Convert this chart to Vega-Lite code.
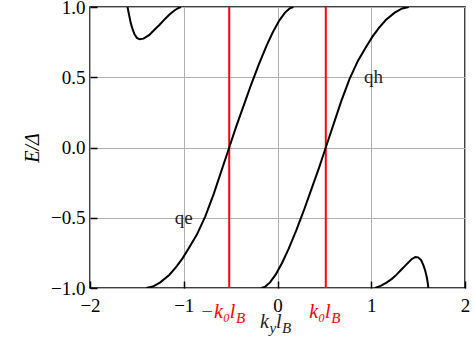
{
  "$schema": "https://vega.github.io/schema/vega-lite/v6.json",
  "width": 375,
  "height": 281,
  "autosize": {"type": "none"},
  "padding": {"left": 90, "top": 7, "right": 9, "bottom": 57},
  "background": "white",
  "config": {
    "view": {"stroke": "black", "strokeWidth": 1.5},
    "style": {
      "guide-label": {"font": "Liberation Serif", "fontSize": 19, "fill": "black"},
      "guide-title": {"font": "Liberation Serif", "fontSize": 19, "fill": "black", "fontWeight": "normal"}
    },
    "axis": {
      "labelFont": "Liberation Serif",
      "labelFontSize": 19,
      "labelColor": "black",
      "labelFlush": false,
      "labelOverlap": false,
      "titleFont": "Liberation Serif",
      "titleFontSize": 19,
      "titleFontWeight": "normal",
      "titleColor": "black",
      "domain": false,
      "gridColor": "#b0b0b0",
      "gridWidth": 1,
      "ticks": true,
      "tickColor": "black",
      "tickWidth": 1.5,
      "tickSize": -7
    }
  },
  "datasets": {
    "curves": [
      {"branch": "qe", "x": -1.40, "y": -1.0},
      {"branch": "qe", "x": -1.33, "y": -0.99},
      {"branch": "qe", "x": -1.25, "y": -0.96},
      {"branch": "qe", "x": -1.155, "y": -0.907},
      {"branch": "qe", "x": -1.08, "y": -0.85},
      {"branch": "qe", "x": -1.013, "y": -0.789},
      {"branch": "qe", "x": -0.94, "y": -0.71},
      {"branch": "qe", "x": -0.86, "y": -0.62},
      {"branch": "qe", "x": -0.77, "y": -0.49},
      {"branch": "qe", "x": -0.68, "y": -0.33},
      {"branch": "qe", "x": -0.60, "y": -0.17},
      {"branch": "qe", "x": -0.515, "y": 0.0},
      {"branch": "qe", "x": -0.44, "y": 0.15},
      {"branch": "qe", "x": -0.36, "y": 0.30},
      {"branch": "qe", "x": -0.28, "y": 0.45},
      {"branch": "qe", "x": -0.20, "y": 0.59},
      {"branch": "qe", "x": -0.12, "y": 0.72},
      {"branch": "qe", "x": -0.05, "y": 0.82},
      {"branch": "qe", "x": 0.02, "y": 0.905},
      {"branch": "qe", "x": 0.08, "y": 0.96},
      {"branch": "qe", "x": 0.13, "y": 0.99},
      {"branch": "qe", "x": 0.17, "y": 1.0},
      {"branch": "qh", "x": -0.17, "y": -1.0},
      {"branch": "qh", "x": -0.13, "y": -0.99},
      {"branch": "qh", "x": -0.08, "y": -0.96},
      {"branch": "qh", "x": -0.02, "y": -0.905},
      {"branch": "qh", "x": 0.05, "y": -0.82},
      {"branch": "qh", "x": 0.12, "y": -0.72},
      {"branch": "qh", "x": 0.20, "y": -0.59},
      {"branch": "qh", "x": 0.28, "y": -0.45},
      {"branch": "qh", "x": 0.36, "y": -0.30},
      {"branch": "qh", "x": 0.44, "y": -0.15},
      {"branch": "qh", "x": 0.515, "y": 0.0},
      {"branch": "qh", "x": 0.60, "y": 0.17},
      {"branch": "qh", "x": 0.68, "y": 0.33},
      {"branch": "qh", "x": 0.77, "y": 0.49},
      {"branch": "qh", "x": 0.86, "y": 0.62},
      {"branch": "qh", "x": 0.94, "y": 0.71},
      {"branch": "qh", "x": 1.013, "y": 0.789},
      {"branch": "qh", "x": 1.08, "y": 0.85},
      {"branch": "qh", "x": 1.155, "y": 0.907},
      {"branch": "qh", "x": 1.25, "y": 0.96},
      {"branch": "qh", "x": 1.33, "y": 0.99},
      {"branch": "qh", "x": 1.40, "y": 1.0},
      {"branch": "dip", "x": -1.60, "y": 1.0},
      {"branch": "dip", "x": -1.585, "y": 0.95},
      {"branch": "dip", "x": -1.565, "y": 0.885},
      {"branch": "dip", "x": -1.545, "y": 0.84},
      {"branch": "dip", "x": -1.525, "y": 0.805},
      {"branch": "dip", "x": -1.50, "y": 0.78},
      {"branch": "dip", "x": -1.47, "y": 0.77},
      {"branch": "dip", "x": -1.43, "y": 0.775},
      {"branch": "dip", "x": -1.37, "y": 0.80},
      {"branch": "dip", "x": -1.31, "y": 0.84},
      {"branch": "dip", "x": -1.26, "y": 0.872},
      {"branch": "dip", "x": -1.20, "y": 0.915},
      {"branch": "dip", "x": -1.155, "y": 0.945},
      {"branch": "dip", "x": -1.10, "y": 0.975},
      {"branch": "dip", "x": -1.06, "y": 0.992},
      {"branch": "dip", "x": -1.03, "y": 1.0},
      {"branch": "bump", "x": 1.04, "y": -1.0},
      {"branch": "bump", "x": 1.10, "y": -0.985},
      {"branch": "bump", "x": 1.163, "y": -0.962},
      {"branch": "bump", "x": 1.22, "y": -0.935},
      {"branch": "bump", "x": 1.27, "y": -0.905},
      {"branch": "bump", "x": 1.32, "y": -0.87},
      {"branch": "bump", "x": 1.376, "y": -0.832},
      {"branch": "bump", "x": 1.43, "y": -0.795},
      {"branch": "bump", "x": 1.47, "y": -0.78},
      {"branch": "bump", "x": 1.50, "y": -0.782},
      {"branch": "bump", "x": 1.53, "y": -0.80},
      {"branch": "bump", "x": 1.555, "y": -0.835},
      {"branch": "bump", "x": 1.575, "y": -0.875},
      {"branch": "bump", "x": 1.595, "y": -0.93},
      {"branch": "bump", "x": 1.61, "y": -1.0}
    ],
    "k0lines": [{"x": -0.515}, {"x": 0.515}],
    "names": [
      {"x": -1.0, "y": -0.5, "t": "qe"},
      {"x": 1.025, "y": 0.5, "t": "qh"}
    ],
    "lbl": [
      {"x": -0.449, "y": -1.2135, "row": "tick", "main": "−k₀l", "sub": "B"},
      {"x": 0.567, "y": -1.2135, "row": "tick", "main": "k₀l", "sub": "B"},
      {"x": -0.091, "y": -1.2847, "row": "title", "main": "k", "sub": "y"},
      {"x": 0.043, "y": -1.2847, "row": "title", "main": "l", "sub": "B"}
    ]
  },
  "layer": [
    {
      "data": {"name": "k0lines"},
      "mark": {"type": "rule", "color": "#ff0000", "strokeWidth": 2},
      "encoding": {
        "x": {
          "field": "x",
          "type": "quantitative",
          "scale": {"domain": [-2, 2], "nice": false, "zero": false},
          "axis": {
            "values": [-2, -1, 0, 1, 2],
            "format": "d",
            "title": null,
            "labelFont": "Liberation Serif",
            "labelFontSize": 19,
            "labelColor": "black",
            "labelPadding": 15.5,
            "tickSize": -7,
            "tickColor": "black",
            "tickWidth": 1.5,
            "grid": true
          }
        }
      }
    },
    {
      "data": {"name": "curves"},
      "mark": {"type": "line", "color": "black", "strokeWidth": 2, "clip": true},
      "encoding": {
        "x": {"field": "x", "type": "quantitative"},
        "y": {
          "field": "y",
          "type": "quantitative",
          "scale": {"domain": [-1, 1], "nice": false, "zero": false},
          "axis": {
            "values": [-1, -0.5, 0, 0.5, 1],
            "format": ".1f",
            "title": "E/Δ",
            "titleFont": "Liberation Serif",
            "titleFontSize": 20,
            "titleFontStyle": "italic",
            "titleFontWeight": "normal",
            "titleColor": "black",
            "titlePadding": 8,
            "labelFont": "Liberation Serif",
            "labelFontSize": 19,
            "labelColor": "black",
            "labelPadding": 12,
            "tickSize": -7,
            "tickColor": "black",
            "tickWidth": 1.5,
            "grid": true
          }
        },
        "detail": {"field": "branch"}
      }
    },
    {
      "data": {"name": "names"},
      "mark": {"type": "text", "font": "Liberation Serif", "fontSize": 19, "color": "#222", "baseline": "middle", "align": "center"},
      "encoding": {
        "x": {"field": "x", "type": "quantitative"},
        "y": {"field": "y", "type": "quantitative"},
        "text": {"field": "t"}
      }
    },
    {
      "data": {"name": "lbl"},
      "mark": {"type": "text", "font": "Liberation Serif", "fontSize": 20, "fontStyle": "italic", "baseline": "alphabetic", "align": "right"},
      "encoding": {
        "x": {"field": "x", "type": "quantitative"},
        "y": {"field": "y", "type": "quantitative"},
        "text": {"field": "main"},
        "color": {"field": "row", "type": "nominal", "scale": {"domain": ["tick", "title"], "range": ["#ff0000", "#222222"]}, "legend": null}
      }
    },
    {
      "data": {"name": "lbl"},
      "mark": {"type": "text", "font": "Liberation Serif", "fontSize": 15, "fontStyle": "italic", "baseline": "alphabetic", "align": "left", "dy": 5, "dx": 0.5},
      "encoding": {
        "x": {"field": "x", "type": "quantitative"},
        "y": {"field": "y", "type": "quantitative"},
        "text": {"field": "sub"},
        "color": {"field": "row", "type": "nominal", "scale": {"domain": ["tick", "title"], "range": ["#ff0000", "#222222"]}, "legend": null}
      }
    }
  ]
}
